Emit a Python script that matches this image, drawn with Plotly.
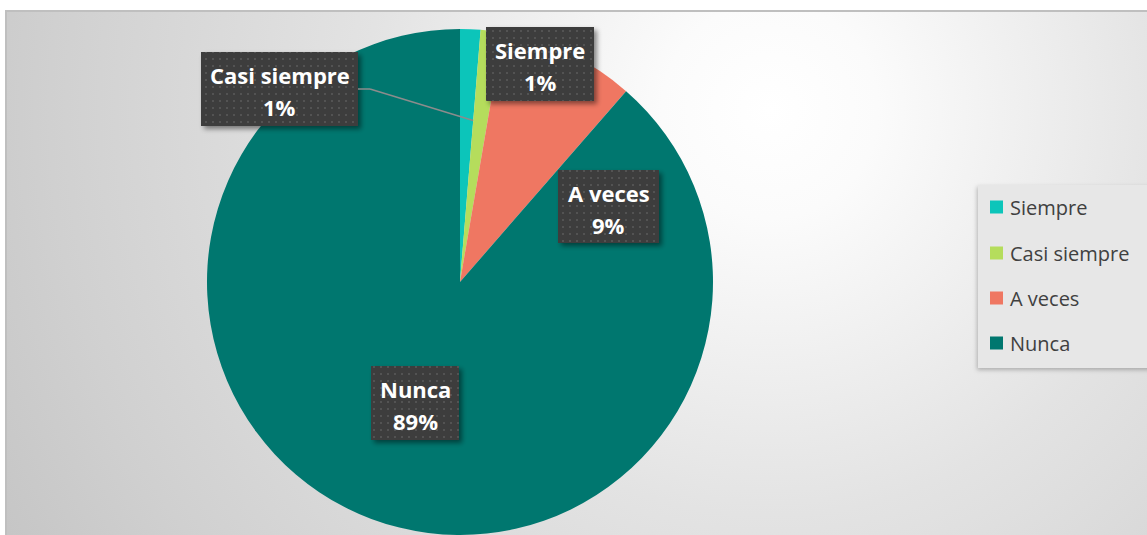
import base64
import math
import plotly.graph_objects as go

# ---------------- data ----------------
labels = ["Siempre", "Casi siempre", "A veces", "Nunca"]
values = [1.3, 1.4, 8.7, 88.6]
colors = ["#0cc5ba", "#b5dd5c", "#ef7762", "#00776f"]

# ---------------- geometry (pixels) ----------------
W, H = 1147, 535
CX, CY, R = 460, 282, 253


def px(x):
    return x / W


def py(y):
    return 1 - y / H


total = sum(values)
pcts = [round(v / total * 100) for v in values]

# ---------------- background svg (radial gradient + frame) ----------------
bg_svg = f'''<svg xmlns="http://www.w3.org/2000/svg" width="{W}" height="{H}" viewBox="0 0 {W} {H}">
<defs>
<radialGradient id="g" gradientUnits="userSpaceOnUse" cx="770" cy="110" r="900">
<stop offset="0" stop-color="#ffffff"/>
<stop offset="0.12" stop-color="#fbfbfb"/>
<stop offset="0.45" stop-color="#e3e3e3"/>
<stop offset="0.8" stop-color="#d0d0d0"/>
<stop offset="1" stop-color="#c4c4c4"/>
</radialGradient>
</defs>
<rect width="{W}" height="{H}" fill="#ffffff"/>
<rect x="6" y="11" width="{W + 10}" height="{H + 10}" fill="url(#g)" stroke="#bfbfbf" stroke-width="2"/>
</svg>'''

# label boxes (pixel boxes: left, top, right, bottom)
boxes = [
    (486, 27, 594, 101),
    (201, 52, 358, 126),
    (558, 170, 659, 243),
    (371, 366, 459, 440),
]
legend_box = (978, 185, 1160, 368)

rects = ""
for (l, t, r, b) in boxes:
    rects += f'<rect x="{l}" y="{t}" width="{r - l}" height="{b - t}" fill="url(#p)" filter="url(#s)"/>\n'

fg_svg = f'''<svg xmlns="http://www.w3.org/2000/svg" width="{W}" height="{H}" viewBox="0 0 {W} {H}">
<defs>
<pattern id="p" width="7" height="7" patternUnits="userSpaceOnUse">
<rect width="7" height="7" fill="#3e3e3e"/>
<rect x="2" y="2" width="2" height="2" fill="#525252"/>
</pattern>
<filter id="s" x="-20%" y="-20%" width="140%" height="140%">
<feDropShadow dx="3" dy="3" stdDeviation="2.5" flood-color="#000000" flood-opacity="0.45"/>
</filter>
<filter id="s2" x="-20%" y="-20%" width="140%" height="140%">
<feDropShadow dx="-1" dy="2" stdDeviation="2" flood-color="#000000" flood-opacity="0.25"/>
</filter>
</defs>
<rect x="{legend_box[0]}" y="{legend_box[1]}" width="{legend_box[2] - legend_box[0]}" height="{legend_box[3] - legend_box[1]}" fill="#e7e7e7" filter="url(#s2)"/>
{rects}
</svg>'''


def uri(svg):
    return "data:image/svg+xml;base64," + base64.b64encode(svg.encode()).decode()


fig = go.Figure()
fig.add_trace(go.Pie(
    labels=labels,
    values=values,
    marker=dict(colors=colors, line=dict(width=0)),
    sort=False,
    direction="clockwise",
    rotation=0,
    textinfo="none",
    hoverinfo="label+percent",
    showlegend=False,
    domain=dict(x=[px(CX - R), px(CX + R)], y=[py(CY + R), py(CY - R)]),
))

images = [
    dict(source=uri(bg_svg), xref="paper", yref="paper", x=0, y=1, sizex=1, sizey=1,
         xanchor="left", yanchor="top", sizing="stretch", layer="below"),
    dict(source=uri(fg_svg), xref="paper", yref="paper", x=0, y=1, sizex=1, sizey=1,
         xanchor="left", yanchor="top", sizing="stretch", layer="above"),
]

annotations = []
lab_font = dict(family="Open Sans", size=22, color="#ffffff")
for lab, p, (l, t, r, b) in zip(labels, pcts, boxes):
    xc = (l + r) / 2
    annotations.append(dict(text=f"<b>{lab}</b>", x=px(xc), y=py(t + 23), xref="paper", yref="paper",
                            xanchor="center", yanchor="middle", showarrow=False, font=lab_font))
    annotations.append(dict(text=f"<b>{p}%</b>", x=px(xc), y=py(t + 55), xref="paper", yref="paper",
                            xanchor="center", yanchor="middle", showarrow=False, font=lab_font))

# legend (manual)
leg_rows = [207, 253, 298, 343]
shapes = []
for lab, col, yy in zip(labels, colors, leg_rows):
    shapes.append(dict(type="rect", xref="paper", yref="paper",
                       x0=px(990), x1=px(1003), y0=py(yy + 6.5), y1=py(yy - 6.5),
                       fillcolor=col, line=dict(width=0), layer="above"))
    annotations.append(dict(text=lab, x=px(1008), y=py(yy), xref="paper", yref="paper",
                            xanchor="left", yanchor="middle", showarrow=False,
                            font=dict(family="Open Sans", size=20, color="#404040")))

# leader line for "Casi siempre" label -> boundary of its slice
start_angle = values[0] / total * 2 * math.pi
lx = CX + 162 * math.sin(start_angle)
ly = CY - 162 * math.cos(start_angle)
bx = boxes[1][2]
by = (boxes[1][1] + boxes[1][3]) / 2
shapes.append(dict(type="line", xref="paper", yref="paper", x0=px(bx), y0=py(by), x1=px(bx + 12), y1=py(by),
                   line=dict(color="#8c8c8c", width=1.5), layer="above"))
shapes.append(dict(type="line", xref="paper", yref="paper", x0=px(bx + 12), y0=py(by), x1=px(lx), y1=py(ly),
                   line=dict(color="#8c8c8c", width=1.5), layer="above"))

fig.update_layout(
    width=W, height=H,
    margin=dict(l=0, r=0, t=0, b=0),
    paper_bgcolor="#ffffff",
    plot_bgcolor="#ffffff",
    images=images,
    annotations=annotations,
    shapes=shapes,
    showlegend=False,
)

fig.write_html("out.html", config={"displayModeBar": False},
               post_script="document.body.style.margin='0';document.body.style.overflow='hidden';")
